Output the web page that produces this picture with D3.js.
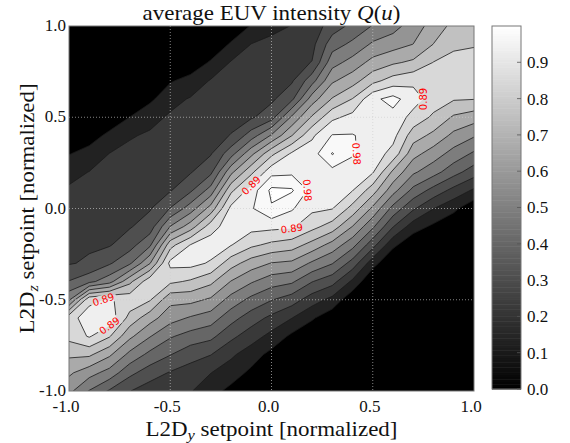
<!DOCTYPE html>
<html>
<head>
<meta charset="utf-8">
<script src="https://cdn.jsdelivr.net/npm/d3@7/dist/d3.min.js"></script>
<style>
  body { margin: 0; background: #fff; }
  svg { display: block; }
  text { font-family: "Liberation Serif", "DejaVu Serif", serif; fill: #111; }
</style>
</head>
<body>
<svg id="s1" width="570" height="443"></svg>
<script>
/*************************Data********************* */
// measurement grid (normalized setpoints)
const setpointsY = [-1.0, -0.9, -0.8, -0.7, -0.6, -0.5, -0.4, -0.3, -0.2, -0.1, 0.0, 0.1, 0.2, 0.3, 0.4, 0.5, 0.6, 0.7, 0.8, 0.9, 1.0];
const setpointsZ = [-1.0, -0.9, -0.8, -0.7, -0.6, -0.5, -0.4, -0.3, -0.2, -0.1, 0.0, 0.1, 0.2, 0.3, 0.4, 0.5, 0.6, 0.7, 0.8, 0.9, 1.0];

// average EUV intensity: one column per L2D_y setpoint, values from L2D_z = -1.0 up to 1.0
const intensity = [
  [0.56, 0.64, 0.73, 0.83, 0.86, 0.52, 0.36, 0.26, 0.245, 0.235, 0.225, 0.19, 0.15, 0.085, 0.03, 0, 0, 0, 0, 0, 0],
  [0.44, 0.57, 0.73, 0.90, 0.93, 0.87, 0.42, 0.28, 0.255, 0.245, 0.23, 0.21, 0.18, 0.12, 0.05, 0.01, 0, 0, 0, 0, 0],
  [0.345, 0.50, 0.64, 0.81, 0.95, 0.90, 0.50, 0.345, 0.26, 0.25, 0.24, 0.22, 0.20, 0.18, 0.11, 0.03, 0, 0, 0, 0, 0],
  [0.27, 0.38, 0.51, 0.645, 0.77, 0.86, 0.69, 0.43, 0.32, 0.26, 0.25, 0.235, 0.22, 0.20, 0.17, 0.09, 0.02, 0, 0, 0, 0],
  [0.22, 0.31, 0.42, 0.54, 0.66, 0.81, 0.86, 0.62, 0.43, 0.31, 0.26, 0.25, 0.23, 0.215, 0.19, 0.15, 0.07, 0.01, 0, 0, 0],
  [0.20, 0.26, 0.36, 0.455, 0.57, 0.65, 0.82, 0.915, 0.77, 0.54, 0.36, 0.26, 0.245, 0.23, 0.21, 0.19, 0.15, 0.08, 0.02, 0, 0],
  [0.185, 0.23, 0.30, 0.41, 0.525, 0.65, 0.79, 0.92, 0.895, 0.67, 0.49, 0.34, 0.26, 0.24, 0.225, 0.205, 0.185, 0.12, 0.03, 0, 0],
  [0.12, 0.18, 0.27, 0.38, 0.49, 0.61, 0.735, 0.88, 0.94, 0.85, 0.66, 0.48, 0.335, 0.26, 0.24, 0.22, 0.20, 0.185, 0.10, 0.02, 0],
  [0.065, 0.13, 0.195, 0.29, 0.39, 0.50, 0.62, 0.75, 0.895, 0.945, 0.915, 0.78, 0.60, 0.41, 0.27, 0.245, 0.225, 0.21, 0.185, 0.10, 0.02],
  [0.03, 0.07, 0.13, 0.22, 0.31, 0.42, 0.545, 0.67, 0.82, 0.92, 0.97, 0.93, 0.78, 0.60, 0.40, 0.255, 0.24, 0.225, 0.205, 0.18, 0.095],
  [0.005, 0.03, 0.062, 0.15, 0.245, 0.36, 0.485, 0.62, 0.78, 0.915, 1.06, 1.09, 0.95, 0.78, 0.545, 0.32, 0.25, 0.235, 0.215, 0.195, 0.16],
  [0, 0.01, 0.03, 0.07, 0.18, 0.31, 0.46, 0.605, 0.755, 0.905, 0.99, 1.08, 0.96, 0.905, 0.71, 0.55, 0.335, 0.255, 0.235, 0.21, 0.18],
  [0, 0, 0, 0.02, 0.10, 0.22, 0.36, 0.52, 0.68, 0.83, 0.91, 0.95, 0.96, 0.94, 0.875, 0.725, 0.58, 0.41, 0.27, 0.24, 0.215],
  [0, 0, 0, 0, 0.03, 0.15, 0.30, 0.45, 0.59, 0.76, 0.895, 0.92, 0.95, 1.075, 0.985, 0.87, 0.72, 0.61, 0.50, 0.405, 0.31],
  [0, 0, 0, 0, 0, 0.02, 0.16, 0.32, 0.475, 0.62, 0.77, 0.895, 0.93, 0.99, 0.985, 0.92, 0.805, 0.675, 0.57, 0.465, 0.38],
  [0, 0, 0, 0, 0, 0, 0, 0.125, 0.30, 0.46, 0.605, 0.755, 0.90, 0.94, 0.95, 0.94, 0.96, 0.775, 0.655, 0.55, 0.45],
  [0, 0, 0, 0, 0, 0, 0, 0, 0.11, 0.27, 0.415, 0.57, 0.695, 0.86, 0.92, 0.95, 1.01, 0.84, 0.70, 0.585, 0.50],
  [0, 0, 0, 0, 0, 0, 0, 0, 0.02, 0.13, 0.28, 0.42, 0.55, 0.655, 0.755, 0.86, 0.93, 0.87, 0.73, 0.625, 0.58],
  [0, 0, 0, 0, 0, 0, 0, 0, 0, 0.07, 0.18, 0.325, 0.48, 0.58, 0.69, 0.785, 0.85, 0.855, 0.805, 0.715, 0.66],
  [0, 0, 0, 0, 0, 0, 0, 0, 0, 0.02, 0.11, 0.24, 0.39, 0.50, 0.60, 0.70, 0.81, 0.84, 0.83, 0.785, 0.74],
  [0, 0, 0, 0, 0, 0, 0, 0, 0, 0, 0.02, 0.165, 0.31, 0.43, 0.545, 0.665, 0.805, 0.84, 0.835, 0.795, 0.76],
];

const contourLevels = [0.089, 0.178, 0.267, 0.356, 0.445, 0.535, 0.624, 0.713, 0.802, 0.891, 0.98, 1.069];
const axisTicks = [-1.0, -0.5, 0.0, 0.5, 1.0];
const colorbarTicks = [0.0, 0.1, 0.2, 0.3, 0.4, 0.5, 0.6, 0.7, 0.8, 0.9];

// inline contour labels: which level, and roughly where on the map
const labelLevels = [0.891, 0.891, 0.891, 0.98, 0.98, 0.891, 0.891];
const labelNearY = [-0.85, -0.8, -0.09, 0.156, 0.42, 0.08, 0.745];
const labelNearZ = [-0.515, -0.64, 0.156, 0.1, 0.32, -0.13, 0.6];

/*************************Scales********************* */
const width = 570;
const height = 443;
const plot = { left: 69, right: 474, top: 26, bottom: 391 };
const cbar = { left: 492, right: 521, top: 26, bottom: 389 };
const svg = d3.select("svg#s1");

const scaleX = d3.scaleLinear().domain([-1, 1]).range([plot.left, plot.right]);
const scaleY = d3.scaleLinear().domain([-1, 1]).range([plot.bottom, plot.top]);
const scaleC = d3.scaleLinear().domain([0, 1]).range([cbar.bottom, cbar.top]);
const gray = d3.scaleLinear().domain([0, 1]).range(["#000", "#fff"]).clamp(true);

/*************************Contours********************* */
const nx = setpointsY.length;
const ny = setpointsZ.length;
const stepY = setpointsY[1] - setpointsY[0];
const stepZ = setpointsZ[1] - setpointsZ[0];

// d3.contours wants row-major values with the first row on top
const values = [];
for (let j = ny - 1; j >= 0; j--) {
  for (let i = 0; i < nx; i++) values.push(intensity[i][j]);
}
const contours = d3.contours().size([nx, ny]).thresholds(contourLevels)(values);

const gridToPx = (c, r) => [scaleX(setpointsY[0] + (c - 0.5) * stepY), scaleY(setpointsZ[ny - 1] - (r - 0.5) * stepZ)];
const path = d3.geoPath(
  d3.geoTransform({
    point(c, r) {
      const p = gridToPx(c, r);
      this.stream.point(p[0], p[1]);
    },
  })
);

const bandShade = contourLevels.map((l, k) => {
  const next = k + 1 < contourLevels.length ? contourLevels[k + 1] : l + 0.089;
  const mid = (l + next) / 2;
  return gray(k === contourLevels.length - 2 ? 0.975 : mid);
});

const defs = svg.append("defs");
defs.append("clipPath").attr("id", "clip").append("rect")
  .attr("x", plot.left).attr("y", plot.top)
  .attr("width", plot.right - plot.left).attr("height", plot.bottom - plot.top);

const map = svg.append("g").attr("class", "map").attr("clip-path", "url(#clip)");
map.append("rect")
  .attr("x", plot.left).attr("y", plot.top)
  .attr("width", plot.right - plot.left).attr("height", plot.bottom - plot.top)
  .attr("fill", gray(0));

map.selectAll("path.band")
  .data(contours)
  .join("path")
  .attr("class", "band")
  .attr("d", path)
  .attr("fill", (_, k) => bandShade[k])
  .attr("stroke", "none");

// gaps in the lines where the labels go
const mask = defs.append("mask").attr("id", "gaps").attr("maskUnits", "userSpaceOnUse")
  .attr("x", 0).attr("y", 0).attr("width", width).attr("height", height);
mask.append("rect").attr("width", width).attr("height", height).attr("fill", "#fff");

const lines = map.append("g").attr("class", "lines").attr("mask", "url(#gaps)");
lines.selectAll("path")
  .data(contours)
  .join("path")
  .attr("d", path)
  .attr("fill", "none")
  .attr("stroke", "#1a1a1a")
  .attr("stroke-width", 0.8);

// dotted grid
const grid = map.append("g").attr("class", "grid");
[-0.5, 0, 0.5].forEach((t) => {
  grid.append("line").attr("x1", scaleX(t)).attr("x2", scaleX(t)).attr("y1", plot.top).attr("y2", plot.bottom);
  grid.append("line").attr("x1", plot.left).attr("x2", plot.right).attr("y1", scaleY(t)).attr("y2", scaleY(t));
});
grid.selectAll("line").attr("stroke", "#cfcfcf").attr("stroke-width", 0.8).attr("stroke-dasharray", "1,2").attr("opacity", 0.8);

/*************************Contour labels********************* */
const fmt = d3.format(".2f");
const labelLayer = map.append("g").attr("class", "labels");
labelLevels.forEach((level, n) => {
  const contour = contours.find((c) => Math.abs(c.value - level) < 1e-9);
  const target = [scaleX(labelNearY[n]), scaleY(labelNearZ[n])];
  let best = null;
  contour.coordinates.forEach((poly) =>
    poly.forEach((ring) => {
      const pts = ring.map((p) => gridToPx(p[0], p[1]));
      pts.forEach((p, i) => {
        const d = (p[0] - target[0]) ** 2 + (p[1] - target[1]) ** 2;
        if (!best || d < best.d) {
          const a = pts[(i - 1 + pts.length) % pts.length];
          const b = pts[(i + 1) % pts.length];
          best = { d, p, a, b };
        }
      });
    })
  );
  let angle = (Math.atan2(best.b[1] - best.a[1], best.b[0] - best.a[0]) * 180) / Math.PI;
  if (angle > 90) angle -= 180;
  if (angle < -90) angle += 180;
  const tf = `translate(${best.p[0]},${best.p[1]}) rotate(${angle})`;
  const t = labelLayer.append("text")
    .attr("transform", tf)
    .attr("text-anchor", "middle")
    .attr("dy", "0.35em")
    .style("font-family", "'DejaVu Sans', sans-serif")
    .style("font-size", "10px")
    .style("fill", "#ff0000")
    .text(fmt(level));
  const w = t.node().getComputedTextLength() + 4;
  mask.append("rect").attr("transform", tf).attr("x", -w / 2).attr("y", -5).attr("width", w).attr("height", 10).attr("fill", "#000");
});

/*************************Axes********************* */
svg.append("rect")
  .attr("x", plot.left).attr("y", plot.top)
  .attr("width", plot.right - plot.left).attr("height", plot.bottom - plot.top)
  .attr("fill", "none").attr("stroke", "#777").attr("stroke-width", 1);

const tickFmt = (d) => d3.format(".1f")(d).replace("−", "-");
svg.append("g").attr("class", "x-ticks")
  .selectAll("text").data(axisTicks).join("text")
  .attr("x", (d) => scaleX(d) - 3).attr("y", 412)
  .attr("text-anchor", "middle").style("font-size", "17px")
  .text(tickFmt);
svg.append("g").attr("class", "y-ticks")
  .selectAll("text").data(axisTicks).join("text")
  .attr("x", 66).attr("y", (d) => scaleY(d)).attr("dy", "0.3em")
  .attr("text-anchor", "end").style("font-size", "17px")
  .text(tickFmt);

// title and axis labels (stretched a little to the width of the TeX font)
const title = svg.append("text").attr("x", (plot.left + plot.right) / 2).attr("y", 20)
  .attr("text-anchor", "middle").style("font-size", "21px")
  .attr("textLength", 258).attr("lengthAdjust", "spacingAndGlyphs");
title.append("tspan").text("average EUV intensity ");
title.append("tspan").style("font-style", "italic").text("Q");
title.append("tspan").text("(");
title.append("tspan").style("font-style", "italic").text("u");
title.append("tspan").text(")");

const xLabel = svg.append("text").attr("x", (plot.left + plot.right) / 2).attr("y", 436)
  .attr("text-anchor", "middle").style("font-size", "21px")
  .attr("textLength", 252).attr("lengthAdjust", "spacingAndGlyphs");
xLabel.append("tspan").text("L2D");
xLabel.append("tspan").attr("dy", 4).style("font-size", "15px").style("font-style", "italic").text("y");
xLabel.append("tspan").attr("dy", -4).text(" setpoint [normalized]");

const yLabel = svg.append("text")
  .attr("transform", `translate(34,${(plot.top + plot.bottom) / 2}) rotate(-90)`)
  .attr("text-anchor", "middle").style("font-size", "21px")
  .attr("textLength", 250).attr("lengthAdjust", "spacingAndGlyphs");
yLabel.append("tspan").text("L2D");
yLabel.append("tspan").attr("dy", 4).style("font-size", "15px").style("font-style", "italic").text("z");
yLabel.append("tspan").attr("dy", -4).text(" setpoint [normalized]");

/*************************Colorbar********************* */
const cb = svg.append("g").attr("class", "colorbar");
const strips = d3.range(0, 1, 1 / 150);
cb.selectAll("rect.strip").data(strips).join("rect")
  .attr("class", "strip")
  .attr("x", cbar.left).attr("width", cbar.right - cbar.left)
  .attr("y", (d) => scaleC(d + 1 / 150)).attr("height", scaleC(0) - scaleC(1 / 150) + 0.5)
  .attr("fill", (d) => gray(d + 0.5 / 150));
cb.append("rect")
  .attr("x", cbar.left).attr("y", cbar.top)
  .attr("width", cbar.right - cbar.left).attr("height", cbar.bottom - cbar.top)
  .attr("fill", "none").attr("stroke", "#777").attr("stroke-width", 1);
cb.selectAll("line.tick").data(colorbarTicks).join("line")
  .attr("class", "tick")
  .attr("x1", cbar.right - 4).attr("x2", cbar.right)
  .attr("y1", (d) => scaleC(d)).attr("y2", (d) => scaleC(d))
  .attr("stroke", "#555").attr("stroke-width", 0.8);
cb.selectAll("text").data(colorbarTicks).join("text")
  .attr("x", 527).attr("y", (d) => scaleC(d)).attr("dy", "0.35em")
  .style("font-size", "17px")
  .text((d) => d3.format(".1f")(d));
</script>
</body>
</html>
